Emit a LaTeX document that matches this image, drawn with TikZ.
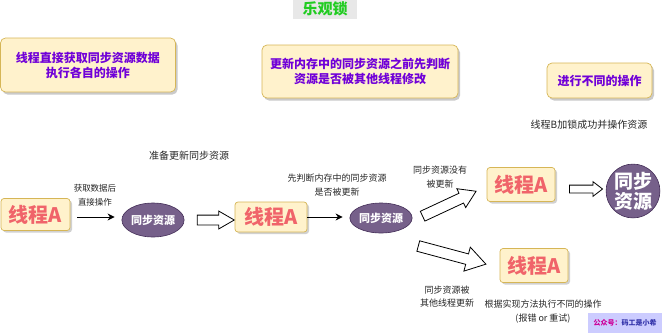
\documentclass[tikz,border=0pt]{standalone}
\usepackage{fontspec}
\setmainfont{Noto Sans CJK SC}
\usetikzlibrary{shapes.geometric,shapes.arrows,shadows,arrows.meta}
\definecolor{noteFill}{HTML}{FFF2CC}
\definecolor{noteLine}{HTML}{D6B656}
\definecolor{noteText}{HTML}{7000D8}
\definecolor{thrText}{HTML}{F0646A}
\definecolor{resFill}{HTML}{76608A}
\definecolor{resLine}{HTML}{432D57}
\definecolor{titleGreen}{HTML}{22CC22}
\definecolor{wmFill}{HTML}{CCCCFF}
\definecolor{wmPink}{HTML}{CC0099}
\definecolor{wmBlue}{HTML}{3333AA}
\tikzset{
  notebox/.style={draw=noteLine, fill=noteFill, rounded corners=5pt, line width=0.7pt,
    align=center, text=noteText, inner sep=0pt,
    font={\fontsize{12}{15}\selectfont\bfseries},
    drop shadow={shadow xshift=2pt, shadow yshift=-2.5pt, fill=black!35, opacity=0.6}},
  thrbox/.style={draw=noteLine, fill=noteFill, rounded corners=3pt, line width=0.7pt,
    text=thrText, inner sep=0pt, font={\fontsize{20}{22}\selectfont\bfseries},
    drop shadow={shadow xshift=2pt, shadow yshift=-2pt, fill=black!30, opacity=0.6}},
  resell/.style={ellipse, draw=resLine, fill=resFill, text=white, inner sep=0pt,
    line width=0.6pt, font={\fontsize{11}{13}\selectfont\bfseries}},
  smalllbl/.style={text=black!85, inner sep=0pt, align=center},
  fatarrow/.style={single arrow, draw=black, fill=white, line width=0.8pt, inner xsep=0pt,
    single arrow head indent=0pt},
  thinarrow/.style={-{Stealth[length=7pt,width=7pt]}, line width=0.9pt},
}
\begin{document}
\begin{tikzpicture}[x=1pt,y=-1pt]
\useasboundingbox (0,0) rectangle (662,333);

% title
\node[fill=black!9, minimum width=64pt, minimum height=19pt, inner sep=0pt,
  text=titleGreen, font={\fontsize{15}{17}\selectfont\bfseries}] (title) at (325,9) {乐观锁};

% top notes
\node[notebox, minimum width=175pt, minimum height=54pt] (note1) at (88,65)
  {线程直接获取同步资源数据\\执行各自的操作};
\node[notebox, minimum width=196pt, minimum height=53pt] (note2) at (360,71.5)
  {更新内存中的同步资源之前先判断\\资源是否被其他线程修改};
\node[notebox, minimum width=105pt, minimum height=35pt] (note3) at (599.5,80.5)
  {进行不同的操作};

% labels
\node[smalllbl, font={\fontsize{10}{12}\selectfont}] (lblB) at (589,125) {线程B加锁成功并操作资源};
\node[smalllbl, font={\fontsize{10}{12}\selectfont}] (lblPrep) at (189,156) {准备更新同步资源};
\node[smalllbl, font={\fontsize{8.5}{14}\selectfont}] (lblGet) at (95,195) {获取数据后\\直接操作};
\node[smalllbl, font={\fontsize{9}{14}\selectfont}] (lblCheck) at (337,185) {先判断内存中的同步资源\\是否被更新};
\node[smalllbl, font={\fontsize{9}{14}\selectfont}] (lblNo) at (440,177) {同步资源没有\\被更新};
\node[smalllbl, font={\fontsize{9}{13.5}\selectfont}] (lblYes) at (447,296.5) {同步资源被\\其他线程更新};
\node[smalllbl, font={\fontsize{9}{14}\selectfont}] (lblAct) at (543,312) {根据实现方法执行不同的操作\\(报错 or 重试)};

% thread A boxes
\node[thrbox, minimum width=69pt, minimum height=32pt] (tA1) at (35.5,214.5) {线程A};
\node[thrbox, minimum width=72pt, minimum height=30pt] (tA2) at (271,217) {线程A};
\node[thrbox, minimum width=68pt, minimum height=34pt] (tA3) at (521,184.5) {线程A};
\node[thrbox, minimum width=68pt, minimum height=34pt] (tA4) at (534,265.5) {线程A};

% resources
\node[resell, minimum width=50pt, minimum height=34pt] (res1) at (153,220) {同步资源};
\node[resell, minimum width=52pt, minimum height=30pt] (res2) at (381,218) {同步资源};
\node[resell, circle, minimum size=48pt, font={\fontsize{19}{20}\selectfont\bfseries}, align=center]
  (res3) at (633,191) {同步\\资源};

% thin arrows
\draw[thinarrow] ([xshift=7pt,yshift=-2.5pt]tA1.east) -- ([xshift=-7pt,yshift=-2.5pt]tA1.east -| res1.west);
\draw[thinarrow] (tA2.east) -- ([xshift=-7pt]tA2.east -| res2.west);

% hollow block arrows
\node[fatarrow, minimum height=37pt, inner ysep=4.5pt, single arrow head extend=4pt,
  single arrow tip angle=60] (fa1) at (211.5,220) {};
\node[fatarrow, minimum height=33pt, inner ysep=3.5pt, single arrow head extend=3.5pt,
  single arrow tip angle=75] (fa2) at (583.5,189) {};
\node[fatarrow, minimum height=59pt, inner ysep=5pt, single arrow head extend=5pt,
  single arrow tip angle=65, rotate=25] (fa3) at (445.5,205.5) {};
\node[fatarrow, minimum height=70pt, inner ysep=5pt, single arrow head extend=7pt,
  single arrow tip angle=65, rotate=-15] (fa4) at (448,254) {};

% watermark
\node[fill=wmFill, minimum width=74pt, minimum height=20pt, inner sep=0pt,
  font={\fontsize{7}{8}\selectfont\bfseries}] (wm) at (625,322.5)
  {\textcolor{wmPink}{公众号：}\textcolor{wmBlue}{码工是小希}};
\end{tikzpicture}
\end{document}
